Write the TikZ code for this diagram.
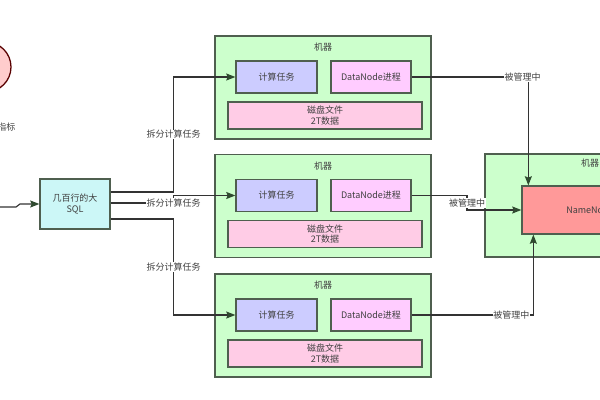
\documentclass[tikz,border=0pt]{standalone}
\usepackage{fontspec}
\setmainfont{Noto Sans CJK SC}
\usepackage{tikz}
\usetikzlibrary{calc}
\usetikzlibrary{positioning, arrows.meta, shapes.geometric}

\definecolor{linegray}{HTML}{333333}
\definecolor{boxline}{HTML}{4F5F4F}
\definecolor{machinegreen}{HTML}{CCFFCC}
\definecolor{taskblue}{HTML}{CCCCFF}
\definecolor{procpink}{HTML}{FFCCFF}
\definecolor{diskpink}{HTML}{FFCCE6}
\definecolor{namered}{HTML}{FF9999}
\definecolor{sqlcyan}{HTML}{CCF7F7}
\definecolor{tipgreen}{HTML}{2F4A2F}

\begin{document}
\begin{tikzpicture}[x=0.025cm, y=-0.025cm,
    every node/.style={font=\fontsize{6.4}{7.6}\selectfont, text=black!75, inner sep=1pt},
    machine/.style={draw=boxline, line width=0.9pt, fill=machinegreen, minimum width=5.4cm, minimum height=2.575cm},
    taskbox/.style={draw=boxline, line width=0.9pt, fill=taskblue, minimum width=2.025cm, minimum height=0.8cm},
    procbox/.style={draw=boxline, line width=0.9pt, fill=procpink, minimum width=2cm, minimum height=0.8cm},
    diskbox/.style={draw=boxline, line width=0.9pt, fill=diskpink, minimum width=4.85cm, minimum height=0.675cm, align=center},
    link/.style={draw=linegray, line width=0.8pt, -{Stealth[length=6.5pt, width=5pt, inset=1pt, color=tipgreen]}},
    tag/.style={fill=white, inner sep=0.5pt}]
    \useasboundingbox (0,0) rectangle (600,400);

    % goal circle, cut off at the left edge
    \node (goal) [draw=black!65!red, line width=0.9pt, fill=red!20, circle, minimum size=1.25cm] at (-14,67) {};
    \node (goaltext) [anchor=east] at (17,127) {指标};

    % the big sql job
    \node (sql) [draw=boxline, line width=0.9pt, fill=sqlcyan, minimum width=1.75cm, minimum height=1.25cm, align=center] at (75,204) {几百行的大\\SQL};
    \coordinate (in) at (0,207);
    \draw [link] (in) -- (16,207) -- (20,204) -- (sql.west);

    % three data machines
    \foreach \i/\y in {1/87.5, 2/206, 3/325.5} {
        \node (m\i) [machine] at (323,\y) {};
        \node (lab\i) at ($(m\i.north)+(0,12)$) {机器};
        \node (ct\i) [taskbox] at ($(m\i.center)+(-46.5,-10.5)$) {计算任务};
        \node (dn\i) [procbox] at ($(m\i.center)+(48,-10.5)$) {DataNode进程};
        \node (disk\i) [diskbox] at ($(m\i.center)+(2,28)$) {磁盘文件\\2T数据};
    }

    % name node machine, cut off at the right edge
    \node (mnn) [machine, minimum width=5.25cm] at (590,205.5) {};
    \node (labnn) at ($(mnn.north)+(0,10)$) {机器};
    \node (nn) [draw=boxline, line width=0.9pt, fill=namered, minimum width=3.4cm, minimum height=1.2cm] at (590,210) {NameNode};

    % split the job over the machines
    \draw [link] ($(sql.east)+(0,-12)$) -- ++(63,0) |- (ct1.west) node[tag, pos=0.25] {拆分计算任务};
    \draw [link] ($(sql.east)+(0,-1)$) -- ++(63,0) node[tag] {拆分计算任务} |- (ct2.west);
    \draw [link] ($(sql.east)+(0,15)$) -- ++(63,0) |- (ct3.west) node[tag, pos=0.25] {拆分计算任务};

    % datanodes report to the namenode
    \draw [link] (dn1.east) -| ($(nn.north west)+(7,0)$) node[tag, pos=0.475] {被管理中};
    \coordinate (bend) at (467,203);
    \draw [link] (dn2.east) -| (bend) node[tag] {被管理中} |- (nn.west);
    \draw [link] (dn3.east) -| ($(nn.south west)+(12,0)$) node[tag, pos=0.41] {被管理中};
\end{tikzpicture}
\end{document}
